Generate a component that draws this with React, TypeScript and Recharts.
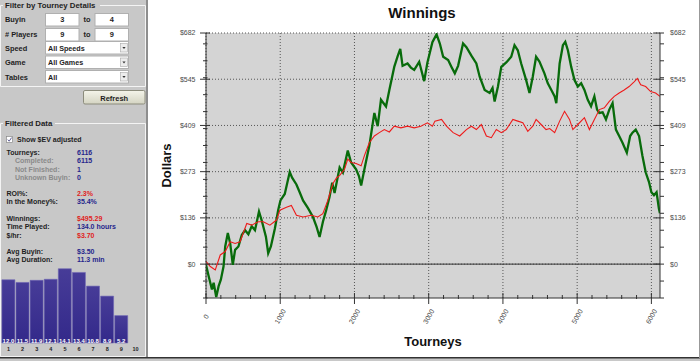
import { LineChart, Line, XAxis, YAxis, CartesianGrid, ReferenceLine, BarChart, Bar, LabelList } from "recharts"

const FONT = "'Liberation Sans', Arial, sans-serif"

// cumulative winnings (tourney number -> dollars)
const greenTourneys = [
  0, 36, 80, 103, 138, 170, 200, 236, 259, 294, 326, 361, 392, 437, 482, 526, 571, 616, 660, 714,
  749, 807, 838, 874, 928, 972, 1003, 1061, 1128, 1160, 1218, 1262, 1307, 1374, 1441, 1490, 1530, 1575, 1620, 1664,
  1700, 1732, 1800, 1844, 1910, 1955, 2022, 2060, 2090, 2134, 2200, 2268, 2313, 2357, 2425, 2470, 2536, 2580, 2617, 2648,
  2715, 2760, 2805, 2872, 2939, 2983, 3050, 3106, 3150, 3195, 3262, 3307, 3352, 3396, 3463, 3508, 3575, 3642, 3687, 3754,
  3821, 3860, 3888, 3933, 3978, 4045, 4112, 4156, 4200, 4246, 4313, 4358, 4402, 4447, 4492, 4559, 4603, 4652, 4697, 4719,
  4764, 4808, 4840, 4875, 4920, 4964, 5009, 5054, 5098, 5143, 5187, 5232, 5268, 5299, 5343, 5388, 5433, 5477, 5522, 5566,
  5611, 5669, 5714, 5745, 5789, 5834, 5879, 5923, 5968, 6000, 6035, 6070, 6101, 6115,
]
const greenDollars = [
  -2, -36, -75, -55, -97, -65, -46, -7, 52, 92, 61, -2, 42, 52, 86, 100, 88, 112, 100, 155,
  130, 81, 32, 52, 105, 159, 188, 207, 272, 255, 235, 212, 188, 165, 139, 110, 80, 125, 160, 198,
  240, 210, 285, 270, 335, 300, 280, 260, 232, 280, 349, 446, 407, 485, 465, 514, 582, 612, 635, 585,
  592, 580, 573, 597, 540, 595, 655, 678, 651, 612, 602, 582, 563, 585, 651, 640, 615, 592, 553, 514,
  505, 520, 480, 524, 582, 595, 612, 646, 631, 592, 543, 505, 553, 612, 598, 563, 534, 514, 495, 475,
  592, 646, 656, 631, 582, 543, 524, 534, 514, 485, 466, 495, 456, 446, 448, 427, 456, 475, 397, 378,
  358, 329, 378, 388, 397, 378, 320, 271, 242, 212, 203, 212, 164, 150,
]
const redTourneys = [
  0, 58, 125, 192, 259, 326, 392, 459, 549, 616, 705, 772, 861, 950, 995, 1084, 1150, 1218, 1307, 1418,
  1507, 1574, 1641, 1708, 1760, 1799, 1866, 1910, 1955, 2022, 2090, 2134, 2200, 2268, 2335, 2402, 2470, 2536, 2626, 2715,
  2805, 2894, 2983, 3050, 3084, 3173, 3240, 3329, 3418, 3508, 3575, 3642, 3709, 3777, 3844, 3911, 3978, 4045, 4134, 4200,
  4268, 4335, 4402, 4447, 4514, 4581, 4630, 4697, 4764, 4830, 4897, 4942, 5009, 5098, 5165, 5232, 5299, 5366, 5433, 5500,
  5566, 5633, 5700, 5767, 5811, 5856, 5923, 5990, 6057, 6115,
]
const redDollars = [
  8, -7, -17, 27, 37, 66, 61, 66, 120, 115, 125, 125, 115, 130, 159, 168, 173, 144, 139, 144,
  139, 149, 188, 237, 255, 261, 280, 310, 300, 297, 290, 320, 358, 378, 388, 397, 390, 407, 402, 407,
  402, 407, 417, 407, 422, 427, 407, 388, 378, 397, 407, 397, 412, 378, 373, 397, 388, 397, 427, 422,
  417, 392, 407, 427, 412, 397, 400, 388, 422, 451, 427, 397, 412, 432, 397, 427, 456, 461, 480, 495,
  505, 514, 524, 538, 548, 529, 524, 509, 505, 495,
]

const yMajorTicks = [0, 136.4, 272.8, 409.2, 545.6, 682]
const yMajorLabels = ["$0", "$136", "$273", "$409", "$545", "$682"]
const yMinorTicks = [-100, -50, 50, 100, 150, 200, 250, 300, 350, 400, 450, 500, 550, 600, 650]
const xMajorTicks = [0, 1000, 2000, 3000, 4000, 5000, 6000]
const xMinorTicks = [
  200, 400, 600, 800, 1200, 1400, 1600, 1800, 2200, 2400, 2600, 2800,
  3200, 3400, 3600, 3800, 4200, 4400, 4600, 4800, 5200, 5400, 5600, 5800,
]

// finish position histogram (% of tourneys)
const histBuckets = ["1", "2", "3", "4", "5", "6", "7", "8", "9", "10"]
const histValues = [12.0, 11.5, 11.9, 12.1, 14.1, 13.4, 10.8, 8.9, 5.2, 0]

const statLabels = [
  "Tourneys:", "Completed:", "Not Finished:", "Unknown Buyin:", "ROI%:", "In the Money%:",
  "Winnings:", "Time Played:", "$/hr:", "Avg Buyin:", "Avg Duration:",
]
const statValues = ["6116", "6115", "1", "0", "2.3%", "35.4%", "$495.29", "134.0 hours", "$3.70", "$3.50", "11.3 min"]

const greenData = greenTourneys.map((t, i) => ({ t, v: greenDollars[i] }))
const redData = redTourneys.map((t, i) => ({ t, v: redDollars[i] }))
const yTicks = [...yMajorTicks, ...yMinorTicks].sort((a, b) => a - b)
const xTicks = [...xMajorTicks, ...xMinorTicks].sort((a, b) => a - b)
const histData = histBuckets.map((bucket, i) => ({ bucket, value: histValues[i] }))

const AXIS = "#333"
const TICK_TEXT = "#4a4a4a"

function LeftTick(props: any) {
  const { x, y, payload } = props
  const i = yMajorTicks.indexOf(payload.value)
  if (i < 0) return <line x1={x - 3} x2={x + 1.5} y1={y} y2={y} stroke={AXIS} />
  return (
    <g>
      <line x1={x - 6} x2={x + 4} y1={y} y2={y} stroke={AXIS} />
      <text x={x - 10.5} y={y} dy={2.4} textAnchor="end" fontSize={7} fill={TICK_TEXT} fontFamily={FONT}>
        {yMajorLabels[i]}
      </text>
    </g>
  )
}

function RightTick(props: any) {
  const { x, y, payload } = props
  const i = yMajorTicks.indexOf(payload.value)
  if (i < 0) return <line x1={x} x2={x + 4} y1={y} y2={y} stroke={AXIS} />
  return (
    <g>
      <line x1={x - 6} x2={x + 4} y1={y} y2={y} stroke={AXIS} />
      <text x={x + 10} y={y} dy={2.4} textAnchor="start" fontSize={7} fill={TICK_TEXT} fontFamily={FONT}>
        {yMajorLabels[i]}
      </text>
    </g>
  )
}

function BottomTick(props: any) {
  const { x, y, payload } = props
  if (!xMajorTicks.includes(payload.value)) return <line x1={x} x2={x} y1={y - 3} y2={y + 1} stroke={AXIS} />
  return (
    <g>
      <line x1={x} x2={x} y1={y - 5} y2={y + 6} stroke={AXIS} />
      <text
        transform={`translate(${x}, ${y + 18.5}) rotate(-60)`}
        textAnchor="middle"
        dominantBaseline="central"
        fontSize={7}
        fill={TICK_TEXT}
        fontFamily={FONT}
      >
        {payload.value}
      </text>
    </g>
  )
}

function SidePanel() {
  const rowY = [154.7, 163.3, 171.7, 180, 196, 204.3, 221, 229.3, 237.7, 253.7, 261.7]
  const sub = [false, true, true, true, false, false, false, false, false, false, false]
  const valueColor = ["#26268c", "#26268c", "#26268c", "#26268c", "#e02222", "#26268c", "#e02222", "#26268c", "#e02222", "#26268c", "#26268c"]
  const label = { fontSize: 7.4, fill: "#1e1e1e" }
  const inputs = [
    { y: 13.5, name: "Buyin", base: 22, a: "3", b: "4" },
    { y: 28.5, name: "# Players", base: 36.5, a: "9", b: "9" },
  ]
  const selects = [
    { y: 41.5, name: "Speed", base: 50.7, text: "All Speeds" },
    { y: 56, name: "Game", base: 65, text: "All Games" },
    { y: 70.5, name: "Tables", base: 79.5, text: "All" },
  ]
  return (
    <svg width={148} height={361} style={{ position: "absolute", left: 0, top: 0 }} fontFamily={FONT} fontWeight="bold">
      <defs>
        <linearGradient id="btn" x1="0" y1="0" x2="0" y2="1">
          <stop offset="0" stopColor="#f4f4ea" />
          <stop offset="1" stopColor="#d4d4c2" />
        </linearGradient>
      </defs>
      <rect x={0} y={0} width={148} height={361} fill="#c8c8c8" />
      <path d="M100 5.5 H145.5 V86.5 H0.5 V5.5 H3" fill="none" stroke="#f4f4f4" />
      <text x={5} y={8.3} fontSize={7.8} fill="#1e1e1e">Filter by Tourney Details</text>
      {inputs.map((r) => (
        <g key={r.name}>
          <text x={5} y={r.base} {...label}>{r.name}</text>
          <rect x={45.5} y={r.y} width={33.5} height={12.5} fill="#fff" stroke="#b0b0b0" />
          <text x={62.3} y={r.base} textAnchor="middle" {...label}>{r.a}</text>
          <text x={87} y={r.base} textAnchor="middle" {...label}>to</text>
          <rect x={95} y={r.y} width={33.5} height={12.5} fill="#fff" stroke="#b0b0b0" />
          <text x={111.8} y={r.base} textAnchor="middle" {...label}>{r.b}</text>
        </g>
      ))}
      {selects.map((r) => (
        <g key={r.name}>
          <text x={5} y={r.base} {...label}>{r.name}</text>
          <rect x={45.5} y={r.y} width={83} height={12.5} fill="#fff" stroke="#b0b0b0" />
          <text x={48} y={r.base} fontSize={7.2} fill="#1e1e1e">{r.text}</text>
          <rect x={120.5} y={r.y + 2} width={7} height={8.5} fill="#ececec" stroke="#a8a8a8" strokeWidth={0.6} />
          <path d={`M122.4 ${r.y + 5.4} h3.2 l-1.6 2 z`} fill="#333" />
        </g>
      ))}
      <rect x={83.5} y={90.5} width={61.5} height={13.5} rx={1.5} fill="url(#btn)" stroke="#8c8c7c" />
      <text x={114.2} y={100.6} textAnchor="middle" fontSize={7.5} fill="#1e1e1e">Refresh</text>

      <path d="M55 123.5 H145.5 V356.5 H0.5 V123.5 H3" fill="none" stroke="#f4f4f4" />
      <text x={5} y={126} fontSize={7.8} fill="#1e1e1e">Filtered Data</text>
      <rect x={6.5} y={136.5} width={6} height={6} fill="#fff" stroke="#8a8a8a" strokeWidth={0.7} />
      <path d="M7.8 139.6 L9.2 141.2 L11.6 137.6" fill="none" stroke="#4a4a8a" strokeWidth={0.9} />
      <text x={17} y={142} fontSize={7} fill="#1e1e1e">Show $EV adjusted</text>
      {statLabels.map((s, i) => (
        <g key={s}>
          <text x={sub[i] ? 15 : 6.5} y={rowY[i]} fontSize={7} fill={sub[i] ? "#8a8a8a" : "#1e1e1e"}>{s}</text>
          <text x={77} y={rowY[i]} fontSize={7} fill={valueColor[i]}>{statValues[i]}</text>
        </g>
      ))}
    </svg>
  )
}

function FinishChart() {
  return (
    <div style={{ position: "absolute", left: 0, top: 260 }}>
      <BarChart width={144} height={95} data={histData} margin={{ top: 4, right: 1.5, bottom: 0, left: 1.5 }} barCategoryGap={0.4}>
        <defs>
          <linearGradient id="histFill" x1="0" y1="0" x2="0" y2="1">
            <stop offset="0" stopColor="#473c98" />
            <stop offset="1" stopColor="#33298a" />
          </linearGradient>
        </defs>
        <XAxis
          dataKey="bucket"
          axisLine={false}
          tickLine={false}
          tickSize={0}
          tickMargin={4}
          height={12}
          interval={0}
          tick={{ fontSize: 5.5, fontWeight: "bold", fill: "#1e1e1e", fontFamily: FONT }}
        />
        <YAxis hide domain={[0, 15]} />
        <Bar dataKey="value" fill="url(#histFill)" stroke="#6d64b4" strokeWidth={0.6} isAnimationActive={false}>
          <LabelList
            dataKey="value"
            position="insideBottom"
            offset={0.5}
            fill="#ffffff"
            fontSize={6}
            fontWeight="bold"
            fontFamily={FONT}
            formatter={(v: any) => (v > 0 ? Number(v).toFixed(1) : "")}
          />
        </Bar>
      </BarChart>
    </div>
  )
}

function WinningsChart() {
  return (
    <div style={{ position: "absolute", left: 148, top: 0, width: 551, height: 357, background: "#fff" }}>
      <LineChart width={552} height={358} margin={{ top: 33, right: 2, bottom: 20, left: 20 }}>
        <CartesianGrid
          yAxisId="left"
          fill="#d4d4d4"
          stroke="#555"
          strokeDasharray="1 2"
          horizontalValues={yMajorTicks}
          verticalValues={xMajorTicks}
        />
        <XAxis
          type="number"
          dataKey="t"
          domain={[0, 6116]}
          allowDataOverflow
          ticks={xTicks}
          interval={0}
          tickSize={0}
          tickMargin={0}
          tickLine={false}
          height={40}
          stroke={AXIS}
          tick={<BottomTick />}
        />
        <YAxis
          yAxisId="left"
          type="number"
          domain={[-100, 682]}
          allowDataOverflow
          ticks={yTicks}
          interval={0}
          width={38}
          tickSize={0}
          tickMargin={0}
          tickLine={false}
          stroke={AXIS}
          tick={<LeftTick />}
        />
        <YAxis
          yAxisId="right"
          orientation="right"
          type="number"
          domain={[-100, 682]}
          allowDataOverflow
          ticks={yTicks}
          interval={0}
          width={38}
          tickSize={0}
          tickMargin={0}
          tickLine={false}
          stroke={AXIS}
          tick={<RightTick />}
        />
        <ReferenceLine yAxisId="left" y={0} stroke="#333" />
        <Line data={greenData} dataKey="v" yAxisId="left" type="linear" dot={false} stroke="#086b0b" strokeWidth={2.3} isAnimationActive={false} />
        <Line data={redData} dataKey="v" yAxisId="left" type="linear" dot={false} stroke="#ee1b1b" strokeWidth={1.1} isAnimationActive={false} />
        <Line data={redData} dataKey="v" yAxisId="right" dot={false} stroke="none" legendType="none" isAnimationActive={false} />
      </LineChart>
    </div>
  )
}

export default function App() {
  return (
    <div style={{ position: "absolute", left: 0, top: 0, width: 700, height: 361, background: "#c8c8c8", overflow: "hidden", fontFamily: FONT }}>
      <SidePanel />
      <FinishChart />
      <WinningsChart />
      <svg width={700} height={361} style={{ position: "absolute", left: 0, top: 0, pointerEvents: "none" }} fontFamily={FONT} fontWeight="bold">
        <line x1={147} x2={147} y1={0} y2={358} stroke="#555" />
        <line x1={0} x2={700} y1={357.8} y2={357.8} stroke="#333" strokeWidth={1.5} />
        <line x1={699.5} x2={699.5} y1={0} y2={358} stroke="#999" />
        <text x={422} y={18} textAnchor="middle" fontSize={15} fill="#111">Winnings</text>
        <text transform="translate(171, 165.5) rotate(-90)" textAnchor="middle" fontSize={13} fill="#111">Dollars</text>
        <text x={433} y={346} textAnchor="middle" fontSize={13} fill="#111">Tourneys</text>
      </svg>
    </div>
  )
}
